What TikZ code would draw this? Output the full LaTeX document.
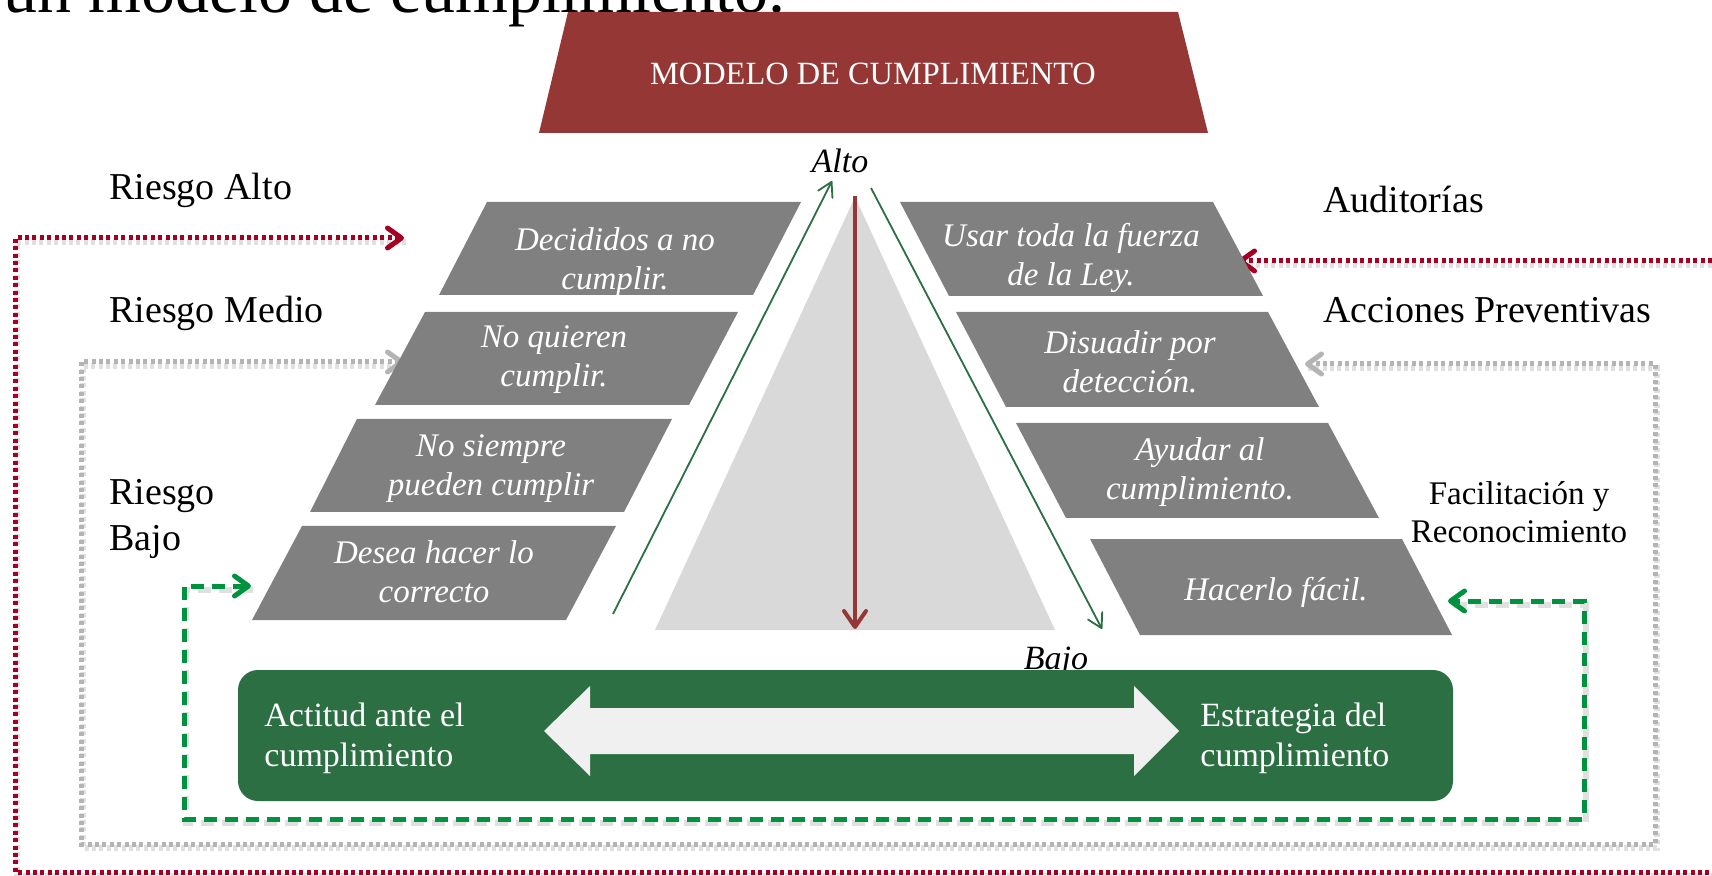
\documentclass[tikz,border=0pt]{standalone}
\usepackage{fontspec}
\setmainfont{Liberation Serif}
\usetikzlibrary{arrows.meta}
\definecolor{hdrred}{HTML}{953735}
\definecolor{shapegray}{HTML}{808080}
\definecolor{trigray}{HTML}{D9D9D9}
\definecolor{boxgreen}{HTML}{2B6F42}
\definecolor{lightarrow}{HTML}{F0F0F0}
\definecolor{thingreen}{HTML}{2B6F42}
\definecolor{dotred}{HTML}{A50021}
\definecolor{dotgray}{HTML}{B4B4B4}
\definecolor{dashgreen}{HTML}{00923F}
\begin{document}
\begin{tikzpicture}[x=0.5pt,y=-0.5pt,
  lbl/.style={font=\fontsize{19}{22.5}\selectfont, inner sep=0pt, anchor=base west, align=left},
  smalllbl/.style={font=\fontsize{16.5}{18.5}\selectfont, inner sep=0pt, anchor=base, align=center},
  shptext/.style={font=\itshape\fontsize{16.5}{19.5}\selectfont, text=white, inner sep=0pt, anchor=base, align=center},
  boxtext/.style={font=\fontsize{17}{20}\selectfont, text=white, inner sep=0pt, anchor=base west, align=left},
  axis/.style={font=\itshape\fontsize{17}{18}\selectfont, inner sep=0pt, anchor=base},
  barb/.tip={Straight Barb[length=7pt,width=10pt,round]},
  loopline/.style={line width=2.5pt, line join=miter},
  reddots/.style={loopline, draw=dotred, dash pattern=on 2pt off 1.7pt, {barb}-{barb}},
  graydots/.style={loopline, draw=dotgray, dash pattern=on 2pt off 1.7pt, {barb}-{barb}},
  greendash/.style={loopline, draw=dashgreen, dash pattern=on 6.5pt off 4pt, {barb}-{barb}},
  shadowline/.style={draw=black, draw opacity=0.12, line width=3pt},
  thinarrow/.style={draw=thingreen, line width=0.9pt, -{Straight Barb[length=7pt,width=8pt,round]}}
]
\useasboundingbox (0,0) rectangle (1712,876);
\fill[white] (0,0) rectangle (1712,876);

% title (cut off at the top)
\node[font=\fontsize{34}{40}\selectfont, inner sep=0pt, anchor=base east] (title) at (786,13) {un modelo de cumplimiento.};

% connector end points
\coordinate (redL) at (404,238);
\coordinate (redR) at (1238,261);
\coordinate (grayL) at (404,362);
\coordinate (grayR) at (1305,364);
\coordinate (grnL) at (251,586);
\coordinate (grnR) at (1448,601);

% shadows of the loop lines
\begin{scope}[transform canvas={shift={(1pt,-2pt)}}]
\draw[shadowline, dash pattern=on 2pt off 1.7pt] (redL) -- (15,238) |- (1740,872) |- (redR);
\draw[shadowline, dash pattern=on 2pt off 1.7pt] (grayL) -- (81,362) |- (1655,844) |- (grayR);
\draw[shadowline, dash pattern=on 6.5pt off 4pt] (grnL) -- (184,586) |- (1584,819) |- (grnR);
\end{scope}

% loop lines
\draw[reddots] (redL) -- (15,238) |- (1740,872) |- (redR);
\draw[graydots] (grayL) -- (81,362) |- (1655,844) |- (grayR);
\draw[greendash] (grnL) -- (184,586) |- (1584,819) |- (grnR);

% header
\fill[hdrred] (568,12) -- (1178,12) -- (1208,133) -- (539,133) -- cycle;
\node[font=\fontsize{16.2}{18}\selectfont, text=white, inner sep=0pt, anchor=base] (hdr) at (873,85) {MODELO DE CUMPLIMIENTO};

% left steps
\fill[shapegray] (487,202) -- (801,202) -- (753,295) -- (439,295) -- cycle;
\fill[shapegray] (425,312) -- (738,312) -- (689,405) -- (375,405) -- cycle;
\fill[shapegray] (357,419) -- (672,419) -- (624,512) -- (310,512) -- cycle;
\fill[shapegray] (302,526) -- (616,526) -- (566,620) -- (252,620) -- cycle;
% right steps
\fill[shapegray] (900,202) -- (1213,202) -- (1263,296) -- (949,296) -- cycle;
\fill[shapegray] (956,312) -- (1268,312) -- (1319,407) -- (1006,407) -- cycle;
\fill[shapegray] (1016,423) -- (1328,423) -- (1379,518) -- (1066,518) -- cycle;
\fill[shapegray] (1090,539) -- (1402,539) -- (1452,635) -- (1140,635) -- cycle;

% central triangle
\fill[trigray] (855,197) -- (1055,630) -- (655,630) -- cycle;

% arrows in the centre
\coordinate (redtop) at (855,196);
\coordinate (redbot) at (855,629);
\draw[draw=hdrred, line width=2pt, -{Straight Barb[length=8pt,width=11pt,round]}] (redtop) -- (redbot);
\coordinate (lgs) at (613,614);
\coordinate (lge) at (832,181);
\coordinate (rgs) at (871,188);
\coordinate (rge) at (1102,629);
\draw[thinarrow] (lgs) -- (lge);
\draw[thinarrow] (rgs) -- (rge);

\node[axis] (alto) at (840,173) {Alto};
\node[axis] (bajo) at (1056,669) {Bajo};

% step texts (anchor = baseline of the last line)
\node[shptext] (l1) at (615,290) {Decididos a no\\cumplir.};
\node[shptext] (l2) at (554,387) {No quieren\\cumplir.};
\node[shptext] (l3) at (491,495) {No siempre\\pueden cumplir};
\node[shptext] (l4) at (434,602) {Desea hacer lo\\correcto};
\node[shptext] (r1) at (1071,286) {Usar toda la fuerza\\de la Ley.};
\node[shptext] (r2) at (1130,393) {Disuadir por\\detección.};
\node[shptext] (r3) at (1200,500) {Ayudar al\\cumplimiento.};
\node[shptext] (r4) at (1276,600) {Hacerlo fácil.};

% side labels
\node[lbl] (ra) at (109,200) {Riesgo Alto};
\node[lbl] (rm) at (109,323) {Riesgo Medio};
\node[lbl] (rb) at (109,550) {Riesgo\\Bajo};
\node[lbl] (aud) at (1323,213) {Auditorías};
\node[lbl] (acc) at (1323,323) {Acciones Preventivas};
\node[smalllbl] (fac) at (1519,542) {Facilitación y\\Reconocimiento};

% bottom bar
\fill[boxgreen, rounded corners=10pt] (238,670) rectangle (1453,801);
\fill[lightarrow] (544,731) -- (590,686) -- (590,708) -- (1134,708) -- (1134,686) -- (1179,731)
  -- (1134,776) -- (1134,754) -- (590,754) -- (590,776) -- cycle;
\node[boxtext] (act) at (264,766) {Actitud ante el\\cumplimiento};
\node[boxtext] (est) at (1200,766) {Estrategia del\\cumplimiento};
\end{tikzpicture}
\end{document}
